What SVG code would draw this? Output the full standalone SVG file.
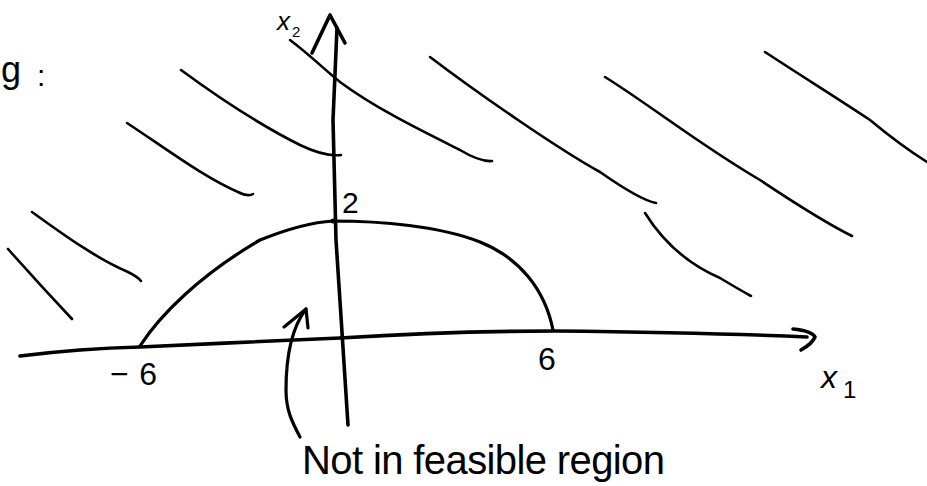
<svg xmlns="http://www.w3.org/2000/svg" width="927" height="486" viewBox="0 0 927 486">
<style>
.ink{fill:none;stroke:#000;stroke-linecap:round;stroke-linejoin:round}
.hatch{stroke-width:2.6}
.axis{stroke-width:3.6}
.curve{stroke-width:3.2}
.t{font-family:"Liberation Sans",Arial,sans-serif;fill:#000}
</style>
<rect width="927" height="486" fill="#fff"/>
<g id="hatching" class="ink hatch">
<path d="M127,123 C165,148 205,178 238,192 Q248,197 253,194"/>
<path d="M32,212 C60,232 95,258 128,272 Q138,277 141,281"/>
<path d="M8,249 Q40,285 72,319"/>
<path d="M181,70 C215,95 260,125 300,145 Q325,157 341,155"/>
<path d="M290,40 C310,55 325,70 340,82 C375,108 420,130 460,150 Q480,162 492,161"/>
<path d="M430,57 C480,95 560,150 600,172 Q640,200 656,203"/>
<path d="M605,77 C650,105 700,145 760,180 Q820,220 852,236"/>
<path d="M765,52 C800,75 840,100 870,120 Q900,145 927,162"/>
<path d="M645,213 C665,245 690,265 720,278 Q740,290 751,296"/>
</g>
<g id="y-axis" class="ink axis">
<path d="M348,425 C345,380 340,300 336,240 L333,120 L337,28"/>
<path d="M312,53 L330,15 L345,43"/>
</g>
<g id="x-axis" class="ink axis">
<path d="M20,356 C60,351 100,348 140,347 C200,344 300,340 340,338 C420,333 500,331 555,331 C650,332 740,334 807,337"/>
<path d="M793,329 Q812,331 815,337 Q812,344 801,350"/>
</g>
<g id="boundary" class="ink curve">
<path d="M140,346 C160,315 200,275 260,240 C290,228 315,222 333,221 C380,221 440,226 480,242 C520,258 545,290 553,330"/>
<circle cx="333" cy="221" r="2.5" fill="#000" stroke="none"/>
</g>
<g id="pointer" class="ink curve">
<path d="M300,437 C292,422 286,410 286,390 C286,360 290,330 306,309"/>
<path d="M284,327 L306,309 L308,328"/>
</g>
<g id="labels" class="t">
<text x="1" y="82" font-size="36">g</text>
<text x="37" y="86" font-size="30">:</text>
<text x="277" y="30" font-size="26" font-style="italic">x</text>
<text x="292" y="37" font-size="15">2</text>
<text x="342" y="213" font-size="30">2</text>
<text x="110" y="385" font-size="32" textLength="47" lengthAdjust="spacing">−6</text>
<text x="538" y="370" font-size="32">6</text>
<text x="821" y="388" font-size="32" font-style="italic">x</text>
<text x="843" y="398" font-size="24">1</text>
<text x="302" y="474" font-size="40" textLength="363" lengthAdjust="spacing">Not in feasible region</text>
</g>
</svg>
